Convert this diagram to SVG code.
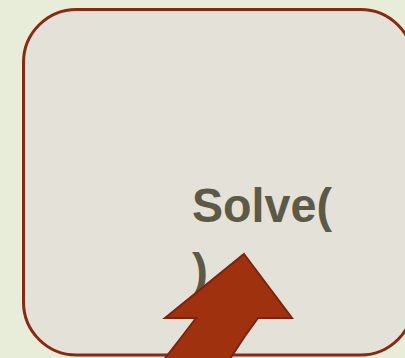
<svg xmlns="http://www.w3.org/2000/svg" width="405" height="358" viewBox="0 0 405 358">
<style>
.box{fill:#E4E1D9;stroke:#862A12;stroke-width:3}
.lbl{font-family:"Liberation Sans",Arial,sans-serif;font-weight:bold;font-size:48px;fill:#5C5A47}
.arrow{fill:#A0310F;stroke:#7B2311;stroke-width:2;stroke-linejoin:miter}
</style>
<rect width="405" height="358" fill="#E8EDD9"/>
<g id="node-solve">
<rect class="box" x="23.5" y="9.5" width="390" height="345.5" rx="53" ry="53"/>
<text class="lbl" x="192" y="222" textLength="140" lengthAdjust="spacingAndGlyphs">Solve(</text>
<text class="lbl" x="192" y="287">)</text>
</g>
<g id="connectors">
<path class="arrow" d="M244,254 L292,318 L258,318 Q243,338 228,362 L162,362 Q181,338 196,318 L165,318 Z"/>
</g>
</svg>
